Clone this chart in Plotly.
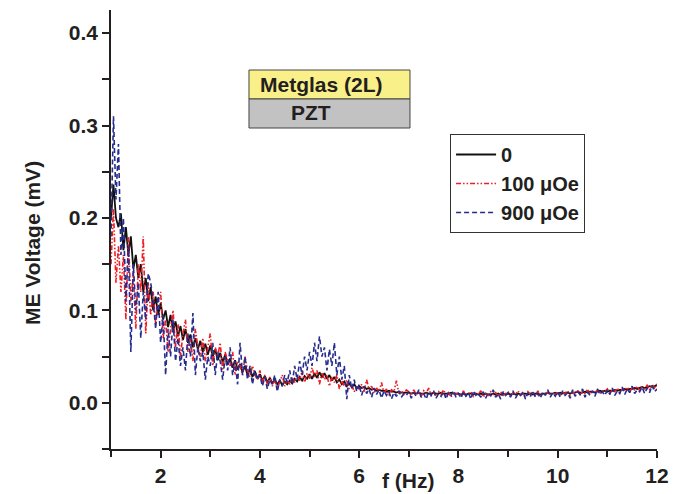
import plotly.graph_objects as go

# ---------------- data ----------------
FREQ_START = 1.0   # Hz
FREQ_STEP = 0.05   # Hz

V_0 = [  # 0 Oe
    0.20, 0.236, 0.20, 0.19, 0.205, 0.165, 0.19, 0.16, 0.18, 0.145, 0.16, 0.135, 0.15, 0.12, 0.135, 0.11, 0.125, 0.10, 0.115, 0.095,
    0.108, 0.09, 0.10, 0.082, 0.095, 0.078, 0.088, 0.072, 0.083, 0.068, 0.08, 0.065, 0.074, 0.06, 0.07, 0.058, 0.067, 0.055, 0.064, 0.052,
    0.062, 0.05, 0.058, 0.046, 0.054, 0.044, 0.052, 0.041, 0.048, 0.038, 0.046, 0.036, 0.042, 0.033, 0.04, 0.03, 0.037, 0.028, 0.034, 0.026,
    0.031, 0.024, 0.029, 0.022, 0.027, 0.021, 0.025, 0.02, 0.024, 0.019, 0.023, 0.02, 0.024, 0.021, 0.026, 0.023, 0.028, 0.024, 0.029, 0.026,
    0.031, 0.026, 0.032, 0.027, 0.033, 0.028, 0.032, 0.026, 0.03, 0.024, 0.028, 0.022, 0.025, 0.02, 0.023, 0.018, 0.021, 0.017, 0.02, 0.016,
    0.018, 0.016, 0.017, 0.015, 0.016, 0.014, 0.015, 0.013, 0.014, 0.013, 0.013, 0.012, 0.013, 0.012, 0.012, 0.011, 0.012, 0.011, 0.011, 0.011,
    0.011, 0.010, 0.011, 0.010, 0.011, 0.010, 0.010, 0.011, 0.010, 0.010, 0.011, 0.010, 0.010, 0.011, 0.010, 0.010, 0.010, 0.011, 0.010, 0.010,
    0.010, 0.009, 0.010, 0.009, 0.010, 0.010, 0.009, 0.010, 0.009, 0.010, 0.009, 0.010, 0.009, 0.009, 0.010, 0.009, 0.010, 0.009, 0.010, 0.009,
    0.010, 0.009, 0.010, 0.009, 0.010, 0.009, 0.010, 0.010, 0.009, 0.010, 0.009, 0.010, 0.010, 0.009, 0.010, 0.010, 0.011, 0.010, 0.010, 0.011,
    0.010, 0.011, 0.010, 0.011, 0.011, 0.010, 0.011, 0.011, 0.012, 0.011, 0.011, 0.012, 0.011, 0.012, 0.012, 0.011, 0.012, 0.013, 0.012, 0.013,
    0.012, 0.013, 0.013, 0.014, 0.013, 0.014, 0.014, 0.015, 0.014, 0.015, 0.015, 0.016, 0.015, 0.016, 0.017, 0.016, 0.017, 0.018, 0.017, 0.018, 0.019,
]

V_100 = [  # 100 uOe
    0.15, 0.21, 0.13, 0.17, 0.12, 0.16, 0.09, 0.18, 0.11, 0.14, 0.08, 0.15, 0.12, 0.18, 0.075, 0.13, 0.095, 0.12, 0.085, 0.11,
    0.12, 0.07, 0.09, 0.055, 0.08, 0.10, 0.06, 0.085, 0.05, 0.075, 0.09, 0.055, 0.07, 0.045, 0.08, 0.06, 0.05, 0.07, 0.045, 0.06,
    0.075, 0.04, 0.06, 0.05, 0.065, 0.035, 0.055, 0.045, 0.04, 0.055, 0.03, 0.045, 0.04, 0.03, 0.05, 0.035, 0.028, 0.04, 0.03, 0.025,
    0.035, 0.022, 0.03, 0.02, 0.028, 0.018, 0.025, 0.015, 0.022, 0.03, 0.018, 0.024, 0.02, 0.028, 0.022, 0.03, 0.024, 0.035, 0.022, 0.032,
    0.026, 0.038, 0.028, 0.035, 0.02, 0.033, 0.025, 0.03, 0.018, 0.028, 0.022, 0.03, 0.015, 0.024, 0.018, 0.025, 0.015, 0.02, 0.012, 0.018,
    0.015, 0.02, 0.012, 0.025, 0.014, 0.018, 0.01, 0.016, 0.012, 0.022, 0.01, 0.015, 0.008, 0.014, 0.012, 0.024, 0.01, 0.013, 0.009, 0.014,
    0.012, 0.008, 0.014, 0.009, 0.012, 0.007, 0.013, 0.01, 0.016, 0.008, 0.011, 0.007, 0.012, 0.009, 0.014, 0.008, 0.011, 0.006, 0.012, 0.009,
    0.011, 0.007, 0.013, 0.008, 0.01, 0.012, 0.007, 0.011, 0.009, 0.013, 0.006, 0.01, 0.008, 0.012, 0.009, 0.011, 0.007, 0.012, 0.008, 0.01,
    0.012, 0.007, 0.011, 0.009, 0.013, 0.008, 0.01, 0.006, 0.012, 0.009, 0.011, 0.008, 0.013, 0.007, 0.01, 0.009, 0.012, 0.008, 0.011, 0.009,
    0.012, 0.008, 0.011, 0.01, 0.013, 0.008, 0.012, 0.01, 0.014, 0.009, 0.012, 0.01, 0.015, 0.009, 0.013, 0.011, 0.014, 0.01, 0.013, 0.012,
    0.015, 0.01, 0.014, 0.012, 0.016, 0.011, 0.015, 0.013, 0.017, 0.012, 0.016, 0.014, 0.018, 0.013, 0.017, 0.015, 0.019, 0.014, 0.02, 0.016, 0.021,
]

V_900 = [  # 900 uOe
    0.18, 0.31, 0.22, 0.28, 0.16, 0.20, 0.11, 0.17, 0.055, 0.15, 0.10, 0.13, 0.07, 0.12, 0.09, 0.14, 0.13, 0.11, 0.08, 0.12,
    0.065, 0.095, 0.03, 0.08, 0.05, 0.09, 0.045, 0.07, 0.04, 0.06, 0.035, 0.075, 0.05, 0.097, 0.03, 0.06, 0.045, 0.055, 0.025, 0.05,
    0.04, 0.065, 0.03, 0.055, 0.045, 0.025, 0.05, 0.035, 0.06, 0.03, 0.045, 0.02, 0.065, 0.03, 0.05, 0.025, 0.04, 0.02, 0.035, 0.025,
    0.03, 0.018, 0.028, 0.015, 0.025, 0.02, 0.03, 0.012, 0.025, 0.018, 0.03, 0.022, 0.035, 0.02, 0.04, 0.025, 0.045, 0.03, 0.05, 0.035,
    0.055, 0.04, 0.065, 0.045, 0.072, 0.05, 0.06, 0.035, 0.058, 0.04, 0.065, 0.03, 0.05, 0.025, 0.04, 0.004, 0.03, 0.015, 0.025, 0.012,
    0.02, 0.008, 0.018, 0.01, 0.015, 0.006, 0.016, 0.009, 0.014, 0.005, 0.013, 0.008, 0.012, 0.004, 0.011, 0.007, 0.013, 0.006, 0.01, 0.008,
    0.012, 0.005, 0.011, 0.007, 0.014, 0.006, 0.01, 0.004, 0.012, 0.008, 0.013, 0.005, 0.01, 0.007, 0.012, 0.004, 0.011, 0.008, 0.013, 0.006,
    0.01, 0.005, 0.012, 0.007, 0.011, 0.004, 0.013, 0.008, 0.01, 0.006, 0.012, 0.005, 0.011, 0.007, 0.014, 0.006, 0.01, 0.004, 0.012, 0.008,
    0.011, 0.006, 0.013, 0.005, 0.01, 0.008, 0.012, 0.004, 0.011, 0.007, 0.013, 0.006, 0.01, 0.005, 0.012, 0.008, 0.014, 0.006, 0.011, 0.007,
    0.012, 0.006, 0.013, 0.008, 0.011, 0.005, 0.014, 0.007, 0.012, 0.009, 0.015, 0.006, 0.012, 0.008, 0.013, 0.007, 0.015, 0.009, 0.012, 0.008,
    0.014, 0.009, 0.016, 0.008, 0.013, 0.01, 0.017, 0.009, 0.015, 0.011, 0.018, 0.01, 0.014, 0.012, 0.017, 0.01, 0.016, 0.011, 0.019, 0.012, 0.015,
]

SERIES_NAMES = ["0", "100 μOe", "900 μOe"]
X_TICKS = [2, 4, 6, 8, 10, 12]
Y_TICKS = [0.0, 0.1, 0.2, 0.3, 0.4]


def freqs(values):
    return [round(FREQ_START + FREQ_STEP * i, 3) for i in range(len(values))]


FONT = "Liberation Sans, Arial, sans-serif"
AX = "#231F20"
TXT = "#231F20"

fig = go.Figure()
fig.add_trace(go.Scatter(x=freqs(V_0), y=V_0, name=SERIES_NAMES[0], mode="lines",
                         line=dict(color="#111111", width=1.8)))
fig.add_trace(go.Scatter(x=freqs(V_100), y=V_100, name=SERIES_NAMES[1], mode="lines",
                         line=dict(color="#EE1C24", width=1.6, dash="5px,2px,1.5px,2px,1.5px,2px")))
fig.add_trace(go.Scatter(x=freqs(V_900), y=V_900, name=SERIES_NAMES[2], mode="lines",
                         line=dict(color="#262D8C", width=1.6, dash="5px,3px")))

axis_common = dict(
    showgrid=False, zeroline=False, showline=True, linecolor=AX, linewidth=1.5,
    ticks="outside", ticklen=7, tickwidth=1.5, tickcolor=AX,
    tickfont=dict(family=FONT, size=21, color=TXT, weight="bold"),
)

fig.update_xaxes(range=[1, 12], tickvals=X_TICKS,
                 minor=dict(dtick=1, tick0=1, ticks="outside", ticklen=6, tickwidth=1.5, tickcolor=AX),
                 **axis_common)
fig.update_yaxes(range=[-0.05, 0.425], tickvals=Y_TICKS, tickformat=".1f",
                 minor=dict(dtick=0.05, tick0=-0.05, ticks="outside", ticklen=7, tickwidth=1.5, tickcolor=AX),
                 **axis_common)

bold = dict(family=FONT, size=21, color=TXT, weight="bold")
legend_font = dict(family=FONT, size=20, color=TXT, weight="bold")

# page body has an 8px margin, so the figure is 8px smaller and margins offset by 8px
fig.update_layout(
    width=676, height=486,
    margin=dict(l=103, r=27, t=2, b=45, autoexpand=False),
    plot_bgcolor="white", paper_bgcolor="white",
    showlegend=True,
    legend=dict(x=0.621, y=0.7175, xanchor="left", yanchor="top",
                bgcolor="white", bordercolor="#333333", borderwidth=1,
                font=legend_font, tracegroupgap=0, itemwidth=40),
    shapes=[
        dict(type="rect", xref="paper", yref="paper", x0=0.2527, x1=0.5476, y0=0.7973, y1=0.8633,
             fillcolor="#FAF08A", line=dict(color="#444444", width=1)),
        dict(type="rect", xref="paper", yref="paper", x0=0.2527, x1=0.5476, y0=0.7312, y1=0.7973,
             fillcolor="#C2C2C2", line=dict(color="#444444", width=1)),
    ],
    annotations=[
        dict(text="Metglas (2L)", xref="paper", yref="paper", x=(258 - 111) / 546, y=(449 - 84) / 439,
             xanchor="left", yanchor="middle", showarrow=False, font=bold),
        dict(text="PZT", xref="paper", yref="paper", x=(311 - 111) / 546, y=(449 - 112) / 439,
             xanchor="center", yanchor="middle", showarrow=False, font=bold),
        dict(text="f (Hz)", xref="paper", yref="paper", x=(408 - 111) / 546, y=-(480 - 449) / 439,
             xanchor="center", yanchor="middle", showarrow=False, font=bold),
        dict(text="ME Voltage (mV)", xref="paper", yref="paper", x=-(111 - 32) / 546, y=(449 - 243) / 439,
             xanchor="center", yanchor="middle", showarrow=False, textangle=-90, font=bold),
    ],
)

fig.write_html("out.html")
